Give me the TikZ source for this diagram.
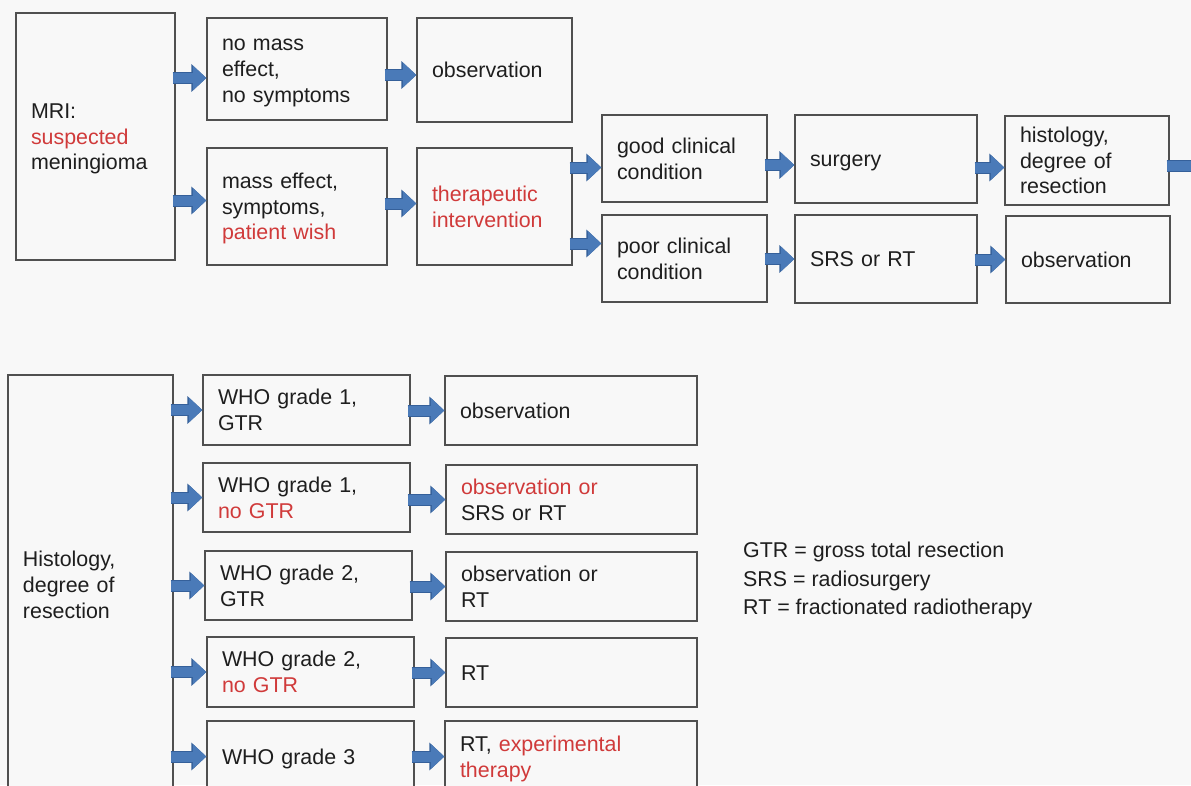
\documentclass[tikz,border=0pt]{standalone}
\usepackage{fontspec}
\setmainfont{Liberation Sans}
\usetikzlibrary{arrows.meta}
\definecolor{bg}{HTML}{F8F8F8}
\definecolor{txt}{HTML}{1E1E1E}
\definecolor{hl}{HTML}{D03A3A}
\definecolor{edge}{HTML}{505050}
\definecolor{arr}{HTML}{4A7AB8}
\definecolor{arredge}{HTML}{35609A}
\begin{document}
\begin{tikzpicture}[x=1pt,y=-1pt,
  box/.style={draw=edge, line width=1.3pt, fill=bg, inner xsep=15pt, inner ysep=0pt,
    align=left, text=txt, font=\fontsize{21.4}{25.7}\selectfont,
    execute at begin node={\rule{0pt}{19.8pt}},
    execute at end node={\rule[-4.5pt]{0pt}{4.5pt}}},
  barrow/.style={draw=arr, line width=10pt, -{Triangle[width=24pt,length=13.5pt]}, shorten <=-3pt,
    preaction={draw=arredge, line width=12pt, -{Triangle[width=27pt,length=15pt]}}}]
\useasboundingbox (0,0) rectangle (1191,785);
\fill[bg] (0,0) rectangle (1191,785);
\clip (0,0) rectangle (1191,785);
% top flow
\node[box, text width=129pt, minimum height=247pt] (mri) at (95.5,136.5) {MRI:\\ \textcolor{hl}{suspected}\\ meningioma};
\node[box, text width=150pt, minimum height=102pt] (nm) at (297,69) {no mass\\ effect,\\ no symptoms};
\node[box, text width=125pt, minimum height=104pt] (obsa) at (494.5,70) {observation};
\node[box, text width=150pt, minimum height=117pt] (me) at (297,206.5) {mass effect,\\ symptoms,\\ \textcolor{hl}{patient wish}};
\node[box, text width=125pt, minimum height=117pt, text=hl] (ther) at (494.5,206.5) {therapeutic\\ intervention};
\node[box, text width=135pt, minimum height=87pt] (good) at (684.5,158.5) {good clinical\\ condition};
\node[box, text width=135pt, minimum height=87pt] (poor) at (684.5,258.5) {poor clinical\\ condition};
\node[box, text width=152pt, minimum height=88pt] (surg) at (886,159) {surgery};
\node[box, text width=152pt, minimum height=88pt] (srs) at (886,259) {SRS or RT};
\node[box, text width=134pt, minimum height=89pt] (hist) at (1087,160.5) {histology,\\ degree of\\ resection};
\node[box, text width=134pt, minimum height=87pt] (obsb) at (1088,259.5) {observation};
\coordinate (off) at (1210,166);
% top arrows
\coordinate (t1) at ([yshift=-9pt]nm.west);
\coordinate (t2) at ([yshift=6pt]me.west);
\coordinate (t3) at ([yshift=-5pt]obsa.west);
\coordinate (t4) at ([yshift=3pt]ther.west);
\coordinate (t5) at ([yshift=-9pt]good.west);
\coordinate (t6) at ([yshift=15pt]poor.west);
\coordinate (t7) at ([yshift=-6pt]surg.west);
\coordinate (t8) at (srs.west);
\coordinate (t9) at ([yshift=-7pt]hist.west);
\coordinate (t10) at (obsb.west);
\draw[barrow] (t1 -| mri.east) -- (t1);
\draw[barrow] (t2 -| mri.east) -- (t2);
\draw[barrow] (t3 -| nm.east) -- (t3);
\draw[barrow] (t4 -| me.east) -- (t4);
\draw[barrow] (t5 -| ther.east) -- (t5);
\draw[barrow] (t6 -| ther.east) -- (t6);
\draw[barrow] (t7 -| good.east) -- (t7);
\draw[barrow] (t8 -| poor.east) -- (t8);
\draw[barrow] (t9 -| surg.east) -- (t9);
\draw[barrow] (t10 -| srs.east) -- (t10);
\draw[barrow] (off -| hist.east) -- (off);
% bottom flow
\node[box, text width=135pt, minimum height=420pt] (hb) at (90.5,585) {Histology,\\ degree of\\ resection};
\node[box, text width=177pt, minimum height=70pt] (wa) at (306.5,410) {WHO grade 1,\\ GTR};
\node[box, text width=222pt, minimum height=69pt] (oa) at (571,410.5) {observation};
\node[box, text width=177pt, minimum height=69pt] (wb) at (306.5,497.5) {WHO grade 1,\\ \textcolor{hl}{no GTR}};
\node[box, text width=221pt, minimum height=69pt] (ob) at (571.5,499.5) {\textcolor{hl}{observation or}\\ SRS or RT};
\node[box, text width=177pt, minimum height=69pt] (wc) at (308.5,585.5) {WHO grade 2,\\ GTR};
\node[box, text width=221pt, minimum height=69pt] (oc) at (571.5,586.5) {observation or\\ RT};
\node[box, text width=177pt, minimum height=70pt] (wd) at (310.5,672) {WHO grade 2,\\ \textcolor{hl}{no GTR}};
\node[box, text width=221pt, minimum height=69pt] (od) at (571.5,672.5) {RT};
\node[box, text width=177pt, minimum height=71pt] (we) at (310.5,756.5) {WHO grade 3};
\node[box, text width=222pt, minimum height=71pt] (oe) at (571,756.5) {RT, \textcolor{hl}{experimental}\\ \textcolor{hl}{therapy}};
\foreach \w/\o in {wa/oa, wb/ob, wc/oc, wd/od, we/oe}{
  \draw[barrow] (hb.east |- \w.west) -- (\w.west);
  \draw[barrow] (\w.east |- \o.west) -- (\o.west);
}
% legend
\node[anchor=west, align=left, text=txt, font=\fontsize{21.4}{28.5}\selectfont, inner sep=0pt] (leg) at (743,580.5)
  {GTR = gross total resection\\ SRS = radiosurgery\\ RT = fractionated radiotherapy};
\end{tikzpicture}
\end{document}
